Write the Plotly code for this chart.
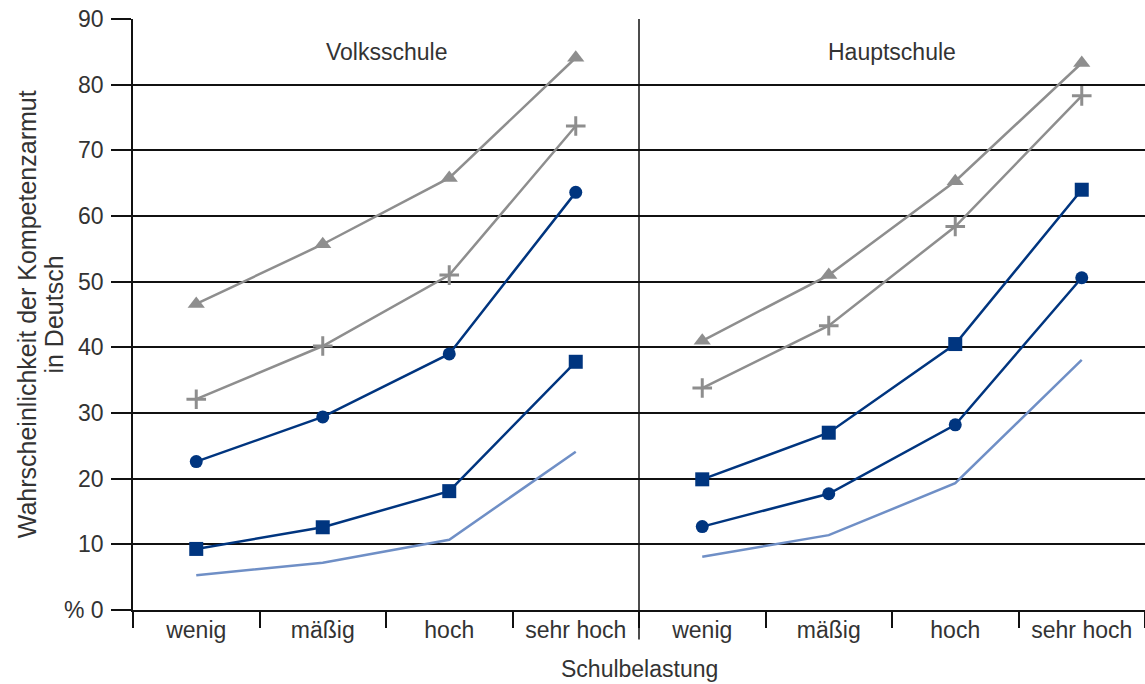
import plotly.graph_objects as go
from plotly.subplots import make_subplots

categories = ["wenig", "mäßig", "hoch", "sehr hoch"]
panels = ["Volksschule", "Hauptschule"]

# Volksschule
vs_triangle = [46.6, 55.7, 65.8, 84.1]
vs_plus = [32.1, 40.2, 51.0, 73.7]
vs_circle = [22.6, 29.4, 39.0, 63.6]
vs_square = [9.3, 12.6, 18.1, 37.8]
vs_line = [5.3, 7.2, 10.7, 24.1]

# Hauptschule
hs_triangle = [41.0, 51.0, 65.3, 83.3]
hs_plus = [33.8, 43.3, 58.4, 78.3]
hs_circle = [12.7, 17.7, 28.2, 50.6]
hs_square = [19.9, 27.0, 40.5, 64.0]
hs_line = [8.1, 11.4, 19.3, 38.1]

y_ticks = [0, 10, 20, 30, 40, 50, 60, 70, 80, 90]
y_ticktext = ["% 0", "10", "20", "30", "40", "50", "60", "70", "80", "90"]

GRAY = "#8e8e8e"
DARK = "#00357f"
LIGHT = "#6f8fc6"
FONT = "Liberation Sans, Arial, sans-serif"
TXT = "#333333"
FS = 23

fig = make_subplots(rows=1, cols=2, shared_yaxes=True, horizontal_spacing=0)

panel_data = [
    (vs_triangle, vs_plus, vs_circle, vs_square, vs_line),
    (hs_triangle, hs_plus, hs_circle, hs_square, hs_line),
]

for col, (tri, plus, circ, sq, ln) in enumerate(panel_data, start=1):
    fig.add_trace(go.Scatter(x=categories, y=ln, mode="lines",
                             line=dict(color=LIGHT, width=2.5), showlegend=False), row=1, col=col)
    fig.add_trace(go.Scatter(x=categories, y=sq, mode="lines+markers",
                             line=dict(color=DARK, width=2.5),
                             marker=dict(symbol="square", size=14, color=DARK), showlegend=False), row=1, col=col)
    fig.add_trace(go.Scatter(x=categories, y=circ, mode="lines+markers",
                             line=dict(color=DARK, width=2.5),
                             marker=dict(symbol="circle", size=13, color=DARK), showlegend=False), row=1, col=col)
    fig.add_trace(go.Scatter(x=categories, y=plus, mode="lines+markers",
                             line=dict(color=GRAY, width=2.5),
                             marker=dict(symbol="cross-thin-open", size=14, color=GRAY,
                                         line=dict(color=GRAY, width=3)), showlegend=False), row=1, col=col)
    fig.add_trace(go.Scatter(x=categories, y=tri, mode="lines+markers",
                             line=dict(color=GRAY, width=2.5),
                             marker=dict(symbol="triangle-up", size=15, color=GRAY), showlegend=False), row=1, col=col)

for i in (1, 2):
    fig.update_xaxes(row=1, col=i, type="category", range=[-0.5, 3.5],
                     tickson="boundaries", ticks="outside", ticklen=16, tickwidth=1.5,
                     tickcolor="#111111", showgrid=False, showline=True, mirror=False,
                     linecolor="#111111", linewidth=1.5,
                     tickfont=dict(family=FONT, size=FS, color=TXT),
                     ticklabelstandoff=-1)

fig.update_yaxes(row=1, col=1, range=[0, 90], tickvals=y_ticks, ticktext=y_ticktext,
                 ticks="outside", ticklen=20, tickwidth=1.5, tickcolor="#111111",
                 showgrid=True, gridcolor="#111111", gridwidth=1.5, zeroline=False,
                 showline=True, linecolor="#111111", linewidth=1.5,
                 tickfont=dict(family=FONT, size=FS, color=TXT), ticklabelstandoff=3)
fig.update_yaxes(row=1, col=2, range=[0, 90], tickvals=y_ticks, showticklabels=False,
                 ticks="", showgrid=True, gridcolor="#111111", gridwidth=1.5, zeroline=False,
                 showline=False)

# panel divider
fig.add_shape(type="line", xref="paper", yref="paper", x0=0.5, x1=0.5, y0=-0.05, y1=1,
              line=dict(color="#111111", width=1.5))

# y-axis title (two lines)
fig.add_annotation(text="Wahrscheinlichkeit der Kompetenzarmut", xref="paper", yref="paper",
                   x=-0.105, y=0.5, textangle=-90, showarrow=False,
                   xanchor="center", yanchor="middle",
                   font=dict(family=FONT, size=25, color=TXT))
fig.add_annotation(text="in Deutsch", xref="paper", yref="paper",
                   x=-0.079, y=0.5, textangle=-90, showarrow=False,
                   xanchor="center", yanchor="middle",
                   font=dict(family=FONT, size=25, color=TXT))

for i, name in enumerate(panels):
    fig.add_annotation(text=name, xref="paper", yref="paper", x=0.25 + 0.5 * i, y=0.944,
                       showarrow=False, xanchor="center", yanchor="middle",
                       font=dict(family=FONT, size=FS, color=TXT))

fig.add_annotation(text="Schulbelastung", xref="paper", yref="paper", x=0.5, y=-0.1,
                   xanchor="center", yanchor="middle", showarrow=False,
                   font=dict(family=FONT, size=FS, color=TXT))

fig.update_layout(width=1145, height=684, plot_bgcolor="white", paper_bgcolor="white",
                  margin=dict(l=133, r=0, t=19, b=74))

fig.write_html("out.html", config={"displayModeBar": False},
               post_script="document.body.style.margin='0';document.body.style.overflow='hidden';")
